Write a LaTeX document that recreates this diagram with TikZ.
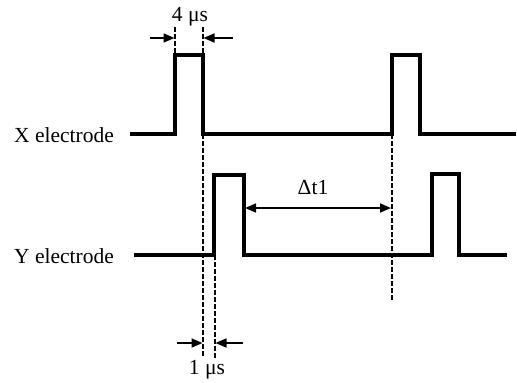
\documentclass[tikz,border=0pt]{standalone}
\usepackage{fontspec}
\setmainfont{Liberation Serif}
\usetikzlibrary{arrows.meta}
\begin{document}
\begin{tikzpicture}[x=1pt,y=-1pt,
  wave/.style={line width=3.2pt,line join=miter},
  guide/.style={line width=1.6pt,dash pattern=on 4.5pt off 2.5pt},
  dim/.style={line width=1.6pt,-{Triangle[length=11pt,width=9pt]}},
  dimboth/.style={line width=1.6pt,{Triangle[length=11pt,width=9pt]}-{Triangle[length=11pt,width=9pt]}},
  lbl/.style={font=\fontsize{21.5}{25}\selectfont,inner sep=0pt}]
\useasboundingbox (0,0) rectangle (517,383);
% waveforms
\draw[wave] (130,134) -- (175,134) -- (175,55) -- (203,55) -- (203,134) -- (392,134) -- (392,55) -- (420,55) -- (420,134) -- (516,134);
\draw[wave] (134,255) -- (214,255) -- (214,175) -- (244,175) -- (244,255) -- (432,255) -- (432,174) -- (459,174) -- (459,255) -- (507,255);
% guides
\draw[guide] (175,27) -- (175,55);
\draw[guide] (203,27) -- (203,55);
\draw[guide] (203,134) -- (203,358);
\draw[guide] (215,255) -- (215,358);
\draw[guide] (392,134) -- (392,300);
% dimension arrows
\coordinate (a1s) at (150,38); \coordinate (a1e) at (174.5,38);
\coordinate (a2s) at (233,38); \coordinate (a2e) at (203.5,38);
\coordinate (b1s) at (177,343); \coordinate (b1e) at (202.5,343);
\coordinate (b2s) at (243,343); \coordinate (b2e) at (215.5,343);
\coordinate (d1) at (245,208); \coordinate (d2) at (391,208);
\draw[dim] (a1s) -- (a1e);
\draw[dim] (a2s) -- (a2e);
\draw[dim] (b1s) -- (b1e);
\draw[dim] (b2s) -- (b2e);
\draw[dimboth] (d1) -- (d2);
% labels
\node[lbl] (t4) at (190,17) {4 μs};
\node[lbl] (t1) at (207,370) {1 μs};
\node[lbl] (dt) at (313,188) {Δt1};
\node[lbl,anchor=east] (xl) at (114,135) {X electrode};
\node[lbl,anchor=east] (yl) at (114,256) {Y electrode};
\end{tikzpicture}
\end{document}
